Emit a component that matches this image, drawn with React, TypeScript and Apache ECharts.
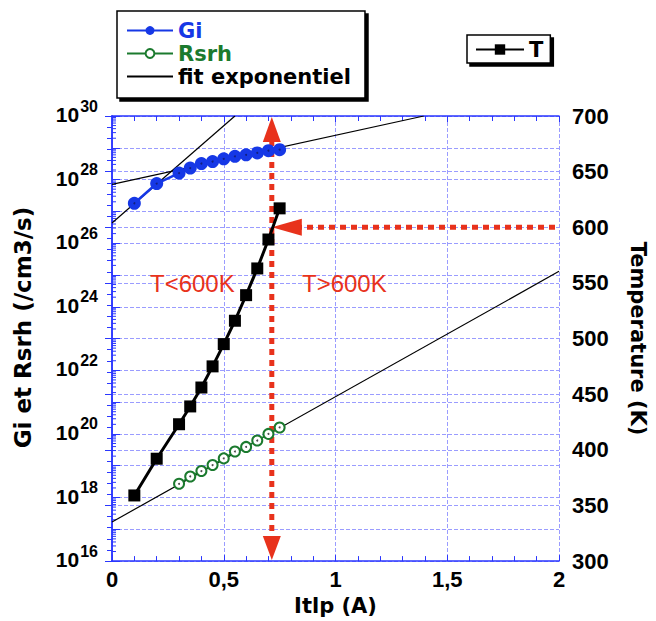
import React, { useEffect, useRef } from 'react';
import * as echarts from 'echarts';

// ---- data ----
const currents = [0.1, 0.2, 0.3, 0.35, 0.4, 0.45, 0.5, 0.55, 0.6, 0.65, 0.7, 0.75];
const giValues = [1.8e27, 7.5e27, 1.6e28, 2.3e28, 3.2e28, 3.7e28, 4.5e28, 5.4e28, 6.0e28, 6.9e28, 8.1e28, 8.7e28];
const rsrhCurrents = [0.3, 0.35, 0.4, 0.45, 0.5, 0.55, 0.6, 0.65, 0.7, 0.75];
const rsrhValues = [2.7e18, 4.6e18, 6.8e18, 1.05e19, 1.7e19, 2.8e19, 3.9e19, 6.2e19, 1.0e20, 1.6e20];
const temperatures = [359, 392, 423, 439, 456, 475, 495, 516, 539, 563, 589, 617];

// exponential fits (straight lines on the log axis), endpoints
const fitGiLowX = [0, 0.55];
const fitGiLowY = [4.3e26, 1e30];
const fitGiHighX = [0, 1.395];
const fitGiHighY = [7.1e27, 1e30];
const fitRsrhX = [0, 2];
const fitRsrhY = [1.7e17, 1.3e25];

// annotations
const thresholdCurrent = 0.715;
const thresholdTemp = 600;

// axis ranges (left axis: decades, 10^16 .. 10^30)
const xRange = [0, 2];
const decadeRange = [16, 30];
const tempRange = [300, 700];
const minorLogMultipliers = [2, 3, 4, 5, 6, 7, 8, 9];

const BLUE = '#1638e6';
const GREEN = '#1b7a2e';
const RED = '#e8321c';
const AXIS = '#2a36ff';
const GRID = '#9a9cff';
const TICK_FONT = 'Liberation Sans';
const TITLE_FONT = 'DejaVu Sans';

const logPairs = (xs: number[], ys: number[]) => xs.map((x, i) => [x, Math.log10(ys[i])]);
const pairs = (xs: number[], ys: number[]) => xs.map((x, i) => [x, ys[i]]);

export default function App() {
  const ref = useRef<HTMLDivElement>(null);
  useEffect(() => {
    if (!ref.current) return;
    const chart = echarts.init(ref.current, null, { renderer: 'svg' });

    const minorTickData: number[][] = [];
    for (let e = decadeRange[0]; e < decadeRange[1]; e++) {
      for (const m of minorLogMultipliers) minorTickData.push([0, e + Math.log10(m)]);
    }

    const axisLine = { show: true, lineStyle: { color: AXIS, width: 1.5 } };
    const tickStyle = { color: AXIS, width: 1 };
    const splitLine = { show: true, lineStyle: { color: GRID, width: 1, type: [4, 2] as any } };
    const fitLine = { color: '#000', width: 1.2 };

    const option: any = {
      animation: false,
      backgroundColor: '#fff',
      grid: { left: 112, top: 116, width: 451, height: 450, containLabel: false },
      legend: [
        {
          orient: 'vertical',
          left: 117,
          top: 11,
          data: [
            { name: 'Gi', textStyle: { color: BLUE } },
            { name: 'Rsrh', textStyle: { color: GREEN } },
            { name: 'fit exponentiel', textStyle: { color: '#000' }, itemStyle: { opacity: 0 } },
          ],
          itemWidth: 46,
          itemHeight: 11,
          itemGap: 2,
          padding: [9, 14, 11, 9],
          backgroundColor: '#fff',
          borderColor: '#000',
          borderWidth: 1.5,
          shadowColor: '#000',
          shadowOffsetX: 3,
          shadowOffsetY: 3,
          shadowBlur: 0.1,
          selectedMode: false,
          textStyle: { fontFamily: TITLE_FONT, fontWeight: 'bold', fontSize: 21 },
        },
        {
          orient: 'vertical',
          left: 467,
          top: 35,
          data: [{ name: 'T', textStyle: { color: '#000' } }],
          itemWidth: 48,
          itemHeight: 13,
          padding: [4, 7, 3, 8],
          backgroundColor: '#fff',
          borderColor: '#000',
          borderWidth: 1.5,
          shadowColor: '#000',
          shadowOffsetX: 3,
          shadowOffsetY: 3,
          shadowBlur: 0.1,
          selectedMode: false,
          textStyle: { fontFamily: TITLE_FONT, fontWeight: 'bold', fontSize: 21 },
        },
      ],
      xAxis: [
        {
          type: 'value',
          min: xRange[0],
          max: xRange[1],
          interval: 0.5,
          position: 'bottom',
          axisLine,
          axisTick: { show: true, inside: true, length: 6, lineStyle: tickStyle },
          minorTick: { show: true, splitNumber: 5, length: 5, lineStyle: tickStyle },
          splitLine,
          axisLabel: {
            color: '#000',
            fontFamily: TICK_FONT,
            fontWeight: 'bold',
            fontSize: 22,
            margin: 7,
            formatter: (v: number) => String(v).replace('.', ','),
          },
          name: 'Itlp (A)',
          nameLocation: 'middle',
          nameGap: 30,
          nameTextStyle: { color: '#000', fontFamily: TITLE_FONT, fontWeight: 'bold', fontSize: 21 },
        },
        {
          type: 'value',
          min: xRange[0],
          max: xRange[1],
          interval: 0.5,
          position: 'top',
          axisLine,
          axisTick: { show: true, inside: true, length: 6, lineStyle: tickStyle },
          minorTick: { show: true, splitNumber: 5, length: 5, lineStyle: tickStyle },
          splitLine: { show: false },
          axisLabel: { show: false },
        },
      ],
      yAxis: [
        {
          type: 'value',
          min: decadeRange[0],
          max: decadeRange[1],
          interval: 1,
          position: 'left',
          axisLine,
          axisTick: { show: true, inside: true, length: 8, lineStyle: tickStyle },
          splitLine,
          axisLabel: {
            margin: 14,
            padding: [0, 0, 9, 0],
            formatter: (v: number) => (Math.round(v) % 2 === 0 ? `{b|10}{s|${Math.round(v)}}` : ''),
            rich: {
              b: { fontFamily: TICK_FONT, fontWeight: 'bold', fontSize: 21, color: '#000', verticalAlign: 'bottom' },
              s: { fontFamily: TICK_FONT, fontWeight: 'bold', fontSize: 16, color: '#000', verticalAlign: 'bottom', padding: [0, 0, 11, 1] },
            },
          },
          name: 'Gi et Rsrh (/cm3/s)',
          nameLocation: 'middle',
          nameGap: 78,
          nameTextStyle: { color: '#000', fontFamily: TITLE_FONT, fontWeight: 'bold', fontSize: 23, padding: [0, 0, 0, 22] },
        },
        {
          type: 'value',
          min: tempRange[0],
          max: tempRange[1],
          interval: 50,
          position: 'right',
          axisLine,
          axisTick: { show: true, inside: true, length: 7, lineStyle: tickStyle },
          minorTick: { show: true, splitNumber: 5, length: 5, lineStyle: tickStyle },
          splitLine,
          axisLabel: { color: '#000', fontFamily: TICK_FONT, fontWeight: 'bold', fontSize: 22, margin: 13 },
          name: 'Temperature (K)',
          nameLocation: 'middle',
          nameRotate: -90,
          nameGap: 68,
          nameTextStyle: { color: '#000', fontFamily: TITLE_FONT, fontWeight: 'bold', fontSize: 21 },
        },
      ],
      series: [
        {
          name: 'logMinorTicks',
          type: 'custom',
          xAxisIndex: 0,
          yAxisIndex: 0,
          silent: true,
          z: 1,
          data: minorTickData,
          renderItem: (_p: any, api: any) => {
            const pt = api.coord([api.value(0), api.value(1)]);
            return {
              type: 'line',
              shape: { x1: pt[0], y1: pt[1], x2: pt[0] + 4, y2: pt[1] },
              style: { stroke: AXIS, lineWidth: 1 },
            };
          },
        },
        { name: 'fit exponentiel', type: 'line', data: logPairs(fitGiLowX, fitGiLowY), symbol: 'none', lineStyle: fitLine, itemStyle: { color: '#000' }, z: 2 },
        { name: 'fit exponentiel', type: 'line', data: logPairs(fitGiHighX, fitGiHighY), symbol: 'none', lineStyle: fitLine, itemStyle: { color: '#000' }, z: 2 },
        { name: 'fit exponentiel', type: 'line', data: logPairs(fitRsrhX, fitRsrhY), symbol: 'none', lineStyle: fitLine, itemStyle: { color: '#000' }, z: 2 },
        {
          name: 'Gi',
          type: 'line',
          data: logPairs(currents, giValues),
          symbol: 'circle',
          symbolSize: 13,
          lineStyle: { color: BLUE, width: 2.5 },
          itemStyle: { color: BLUE },
          z: 4,
        },
        {
          name: 'GiCenter',
          type: 'scatter',
          data: logPairs(currents, giValues),
          symbol: 'circle',
          symbolSize: 2,
          itemStyle: { color: '#111a66' },
          silent: true,
          z: 5,
        },
        {
          name: 'Rsrh',
          type: 'line',
          data: logPairs(rsrhCurrents, rsrhValues),
          symbol: 'emptyCircle',
          symbolSize: 10,
          lineStyle: { color: GREEN, width: 1.5 },
          itemStyle: { color: GREEN, borderWidth: 1.5 },
          z: 4,
        },
        {
          name: 'RsrhCenter',
          type: 'scatter',
          data: logPairs(rsrhCurrents, rsrhValues),
          symbol: 'circle',
          symbolSize: 2,
          itemStyle: { color: '#222' },
          silent: true,
          z: 5,
        },
        {
          name: 'T',
          type: 'line',
          xAxisIndex: 0,
          yAxisIndex: 1,
          data: pairs(currents, temperatures),
          symbol: 'rect',
          symbolSize: 12,
          lineStyle: { color: '#000', width: 3 },
          itemStyle: { color: '#000' },
          z: 6,
        },
      ],
    };
    chart.setOption(option);

    // red threshold arrows, positioned through the chart's own axes
    const top = chart.convertToPixel({ xAxisIndex: 0, yAxisIndex: 0 }, [thresholdCurrent, decadeRange[1]]) as number[];
    const bot = chart.convertToPixel({ xAxisIndex: 0, yAxisIndex: 0 }, [thresholdCurrent, decadeRange[0]]) as number[];
    const right = chart.convertToPixel({ xAxisIndex: 0, yAxisIndex: 1 }, [xRange[1], thresholdTemp]) as number[];
    const vx = top[0];
    const hy = right[1];
    const dashStyle = { stroke: RED, lineWidth: 5, lineDash: [6, 5], fill: null };
    const textStyle = { fill: RED, fontSize: 24, fontFamily: TICK_FONT, align: 'left', verticalAlign: 'middle' };

    chart.setOption({
      graphic: [
        { type: 'line', silent: true, z: 3, shape: { x1: vx, y1: top[1] + 24, x2: vx, y2: bot[1] - 23 }, style: dashStyle },
        { type: 'polygon', silent: true, z: 3, shape: { points: [[vx, top[1] + 1], [vx - 9, top[1] + 26], [vx + 9, top[1] + 26]] }, style: { fill: RED } },
        { type: 'polygon', silent: true, z: 3, shape: { points: [[vx, bot[1] - 1], [vx - 9, bot[1] - 25], [vx + 9, bot[1] - 25]] }, style: { fill: RED } },
        { type: 'line', silent: true, z: 3, shape: { x1: right[0] - 4, y1: hy, x2: vx + 29, y2: hy }, style: dashStyle },
        { type: 'polygon', silent: true, z: 3, shape: { points: [[vx, hy], [vx + 30, hy - 8.5], [vx + 30, hy + 8.5]] }, style: { fill: RED } },
        { type: 'text', silent: true, z: 3, x: 150, y: 283, style: { ...textStyle, text: 'T<600K' } },
        { type: 'text', silent: true, z: 3, x: 302, y: 283, style: { ...textStyle, text: 'T>600K' } },
      ],
    });
    return () => chart.dispose();
  }, []);
  return <div ref={ref} style={{ position: 'absolute', left: 0, top: 0, width: 656, height: 621 }} />;
}
